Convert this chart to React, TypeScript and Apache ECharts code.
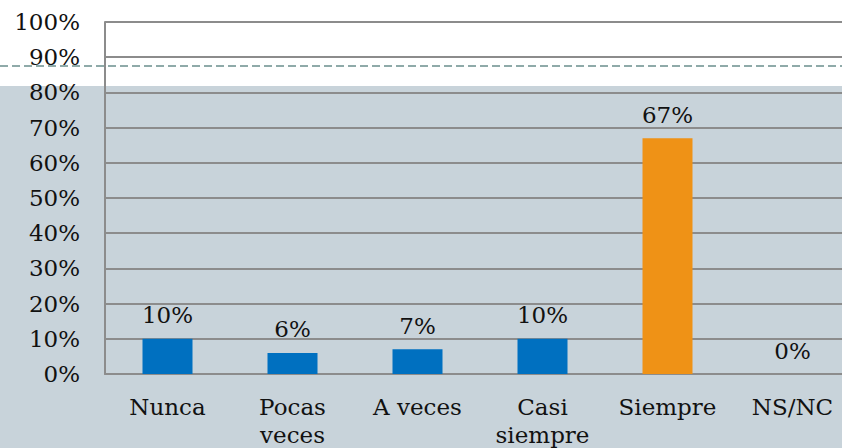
import React, { useEffect, useRef } from "react";
import * as echarts from "echarts";

const categories = ["Nunca", "Pocas\nveces", "A veces", "Casi\nsiempre", "Siempre", "NS/NC"];
const values = [10, 6, 7, 10, 67, 0];
const barColors = ["#0070C0", "#0070C0", "#0070C0", "#0070C0", "#EF9216", "#0070C0"];
const yTicks = [0, 10, 20, 30, 40, 50, 60, 70, 80, 90, 100];

const FONT = "DejaVu Serif";

export default function App() {
  const ref = useRef<HTMLDivElement>(null);
  useEffect(() => {
    if (!ref.current) return;
    const chart = echarts.init(ref.current, undefined, { renderer: "svg" });
    chart.setOption({
      animation: false,
      backgroundColor: "#ffffff",
      textStyle: { fontFamily: FONT },
      graphic: [
        {
          type: "rect",
          z: -10,
          silent: true,
          shape: { x: 0, y: 86, width: 842, height: 362 },
          style: { fill: "#C8D3DA" },
        },
        {
          type: "line",
          z: 100,
          silent: true,
          shape: { x1: 0, y1: 66, x2: 842, y2: 66 },
          style: { stroke: "#8FAAA9", lineWidth: 2, lineDash: [8, 4] },
        },
      ],
      grid: {
        left: 105,
        top: 22,
        right: -13,
        bottom: 74,
        containLabel: false,
        outerBoundsMode: "none",
      },
      xAxis: {
        type: "category",
        data: categories,
        axisLine: { show: true, lineStyle: { color: "#8c8c8c", width: 2 } },
        axisTick: { show: false },
        axisLabel: {
          color: "#111",
          fontFamily: FONT,
          fontSize: 23,
          lineHeight: 28,
          margin: 19,
          interval: 0,
        },
      },
      yAxis: {
        type: "value",
        min: 0,
        max: 100,
        interval: 10,
        axisLine: { show: true, lineStyle: { color: "#8c8c8c", width: 2 } },
        axisTick: { show: false },
        splitLine: { show: true, lineStyle: { color: "#8c8c8c", width: 2 } },
        axisLabel: {
          color: "#111",
          fontFamily: FONT,
          fontSize: 23,
          margin: 25,
          formatter: (v: number) => (yTicks.includes(v) ? v + "%" : ""),
        },
      },
      series: [
        {
          type: "bar",
          barWidth: 50,
          data: values.map((v, i) => ({ value: v, itemStyle: { color: barColors[i] } })),
          label: {
            show: true,
            position: "top",
            distance: 12,
            color: "#111",
            fontFamily: FONT,
            fontSize: 23,
            formatter: (p: any) => p.value + "%",
          },
        },
      ],
    });
    return () => chart.dispose();
  }, []);
  return (
    <div
      ref={ref}
      style={{ position: "fixed", left: 0, top: 0, width: 842, height: 448 }}
    />
  );
}
